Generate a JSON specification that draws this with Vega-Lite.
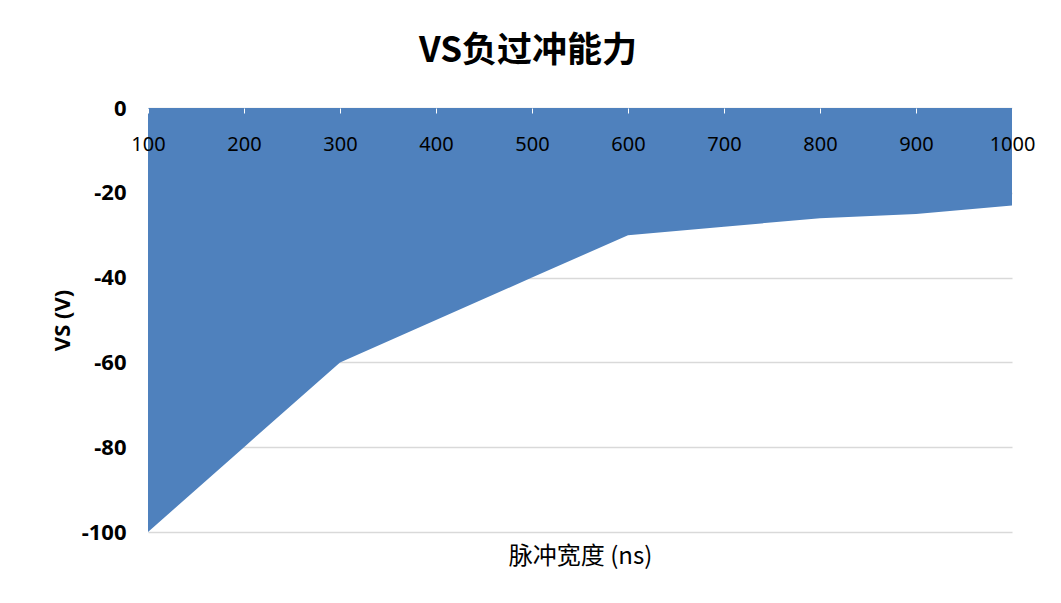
{
  "$schema": "https://vega.github.io/schema/vega-lite/v6.json",
  "autosize": {"type": "none"},
  "width": 864,
  "height": 424,
  "padding": {"left": 148, "top": 108, "right": 49, "bottom": 71},
  "background": "white",
  "title": {
    "text": "VS负过冲能力",
    "font": "Noto Sans CJK SC",
    "fontSize": 35,
    "fontWeight": "bold",
    "color": "#000000",
    "frame": "group",
    "anchor": "middle",
    "dx": -52,
    "offset": 28
  },
  "data": {
    "values": [
      {"pulse": 100, "vs": -100},
      {"pulse": 200, "vs": -80},
      {"pulse": 300, "vs": -60},
      {"pulse": 400, "vs": -50},
      {"pulse": 500, "vs": -40},
      {"pulse": 600, "vs": -30},
      {"pulse": 700, "vs": -28},
      {"pulse": 800, "vs": -26},
      {"pulse": 900, "vs": -25},
      {"pulse": 1000, "vs": -23}
    ]
  },
  "config": {"view": {"stroke": null}},
  "mark": {"type": "area", "color": "#4F81BD", "opacity": 1},
  "encoding": {
    "x": {
      "field": "pulse",
      "type": "quantitative",
      "scale": {"domain": [100, 1000], "nice": false, "zero": false},
      "axis": {
        "orient": "bottom",
        "offset": -424,
        "zindex": 1,
        "values": [100, 200, 300, 400, 500, 600, 700, 800, 900, 1000],
        "labelExpr": "'' + datum.value",
        "grid": false,
        "domain": false,
        "ticks": true,
        "tickColor": "#ffffff",
        "tickSize": 5,
        "labelFont": "Noto Sans",
        "labelFontSize": 20,
        "labelColor": "#000000",
        "labelPadding": 21,
        "labelFlush": false,
        "labelOverlap": false,
        "title": "脉冲宽度 (ns)",
        "titleFont": "Noto Sans CJK SC",
        "titleFontSize": 24,
        "titleFontWeight": "normal",
        "titleColor": "#000000",
        "titleY": 448,
        "titleBaseline": "middle"
      }
    },
    "y": {
      "field": "vs",
      "type": "quantitative",
      "scale": {"domain": [-100, 0], "nice": false},
      "axis": {
        "values": [0, -20, -40, -60, -80, -100],
        "labelExpr": "'' + datum.value",
        "domain": false,
        "ticks": false,
        "grid": true,
        "gridColor": "#d9d9d9",
        "gridWidth": 1.5,
        "labelFont": "Noto Sans",
        "labelFontSize": 22,
        "labelFontWeight": "bold",
        "labelColor": "#000000",
        "labelPadding": 22,
        "title": "VS (V)",
        "titleFont": "Noto Sans",
        "titleFontSize": 22,
        "titleFontWeight": "bold",
        "titleColor": "#000000",
        "titleX": -86,
        "titleBaseline": "middle"
      }
    }
  }
}
